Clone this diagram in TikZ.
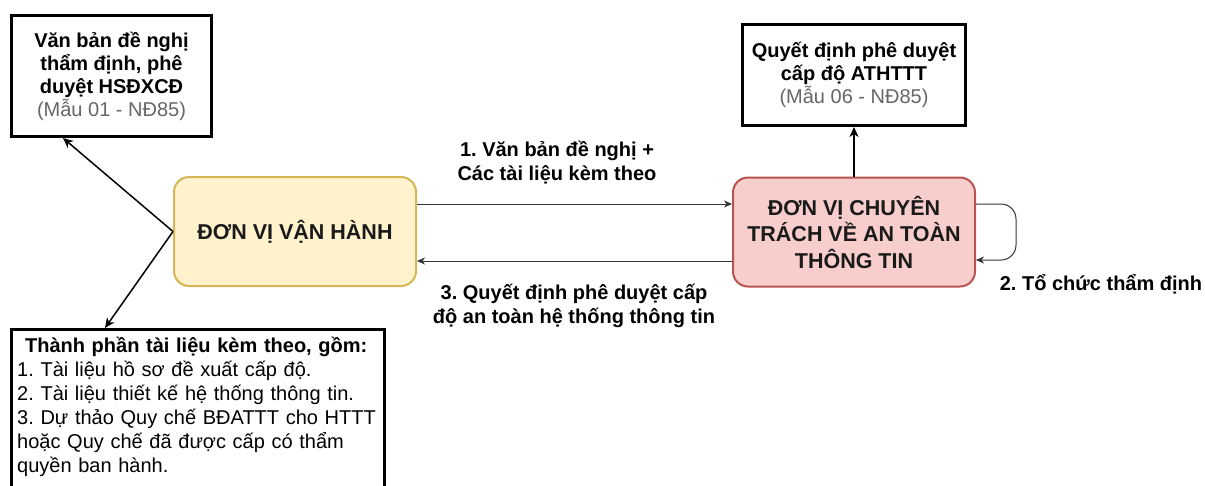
\documentclass[tikz,border=0pt]{standalone}
\usepackage{fontspec}
\setmainfont{Liberation Sans}
\frenchspacing
\usetikzlibrary{arrows.meta}
\definecolor{yfill}{HTML}{FFF2CC}
\definecolor{ydraw}{HTML}{D6B656}
\definecolor{rfill}{HTML}{F8CECC}
\definecolor{rdraw}{HTML}{B85450}
\definecolor{notegray}{HTML}{666666}
\definecolor{linegray}{HTML}{333333}
\definecolor{boxtext}{HTML}{1A1A1A}
\tikzset{
  docbox/.style={draw=black, line width=3pt, fill=white, align=center, inner sep=0pt,
    font=\fontsize{20}{23}\selectfont\bfseries},
  unitbox/.style={draw, line width=2pt, rounded corners=15pt, align=center, inner sep=0pt,
    minimum width=242pt, minimum height=109pt, text=boxtext, font=\bfseries\fontsize{21.5}{26.5}\selectfont},
  lbl/.style={align=center, inner sep=0pt, font=\fontsize{20}{24}\selectfont\bfseries},
  boldarrow/.style={draw=black, line width=1.5pt, -{Stealth[length=10pt,width=9pt,inset=3pt]}},
  thinarrow/.style={draw=linegray, line width=1pt, -{Stealth[length=8pt,width=7pt,inset=2.5pt]}},
}
\begin{document}
\begin{tikzpicture}[x=1pt,y=-1pt]
\useasboundingbox[fill=white] (0,0) rectangle (1205,485);

\node[docbox, minimum width=200pt, minimum height=121pt] (req) at (111.5,76)
  {Văn bản đề nghị\\thẩm định, phê\\duyệt HSĐXCĐ\\{\mdseries\color{notegray}(Mẫu 01 - NĐ85)}};

\node[docbox, minimum width=223pt, minimum height=101pt] (qd) at (854,75)
  {Quyết định phê duyệt\\cấp độ ATHTTT\\{\mdseries\color{notegray}(Mẫu 06 - NĐ85)}};

\node[unitbox, draw=ydraw, fill=yfill] (vh) at (295,231.5) {ĐƠN VỊ VẬN HÀNH};
\node[unitbox, draw=rdraw, fill=rfill] (ct) at (854,232) {ĐƠN VỊ CHUYÊN\\TRÁCH VỀ AN TOÀN\\THÔNG TIN};

\node[draw=black, line width=3pt, fill=white, minimum width=373pt, minimum height=180pt,
  anchor=north, inner sep=0pt] (docs) at (198,328) {};
\node[anchor=north west, inner sep=0pt, text width=358pt, align=left,
  font=\fontsize{20}{24}\selectfont] (docstext) at (17,336.5)
  {\makebox[\linewidth][c]{\bfseries Thành phần tài liệu kèm theo, gồm:}\\
   1. Tài liệu hồ sơ đề xuất cấp độ.\\
   2. Tài liệu thiết kế hệ thống thông tin.\\
   \makebox[\linewidth][s]{3. Dự thảo Quy chế BĐATTT cho HTTT}\\
   \makebox[\linewidth][s]{hoặc Quy chế đã được cấp có thẩm}\\
   quyền ban hành.};

\draw[boldarrow] (vh.west) -- ([xshift=-48.5pt]req.south);
\draw[boldarrow] (vh.west) -- ([xshift=-93pt]docs.north);
\draw[boldarrow] (ct.north) -- (qd.south);

\draw[thinarrow] ([yshift=27.5pt]vh.east) -- ([yshift=28pt]ct.west);
\draw[thinarrow] ([yshift=-29pt]ct.west) -- ([yshift=-29.5pt]vh.east);
\draw[thinarrow, rounded corners=15pt] ([yshift=28pt]ct.east) -- ++(40,0) -- ++(0,56) -- ([yshift=-28pt]ct.east);

\node[lbl] (l1) at (557,163) {1. Văn bản đề nghị +\\Các tài liệu kèm theo};
\node[lbl] (l3) at (574,306) {3. Quyết định phê duyệt cấp\\độ an toàn hệ thống thông tin};
\node[lbl] (l2) at (1101,284) {2. Tổ chức thẩm định};
\end{tikzpicture}
\end{document}
